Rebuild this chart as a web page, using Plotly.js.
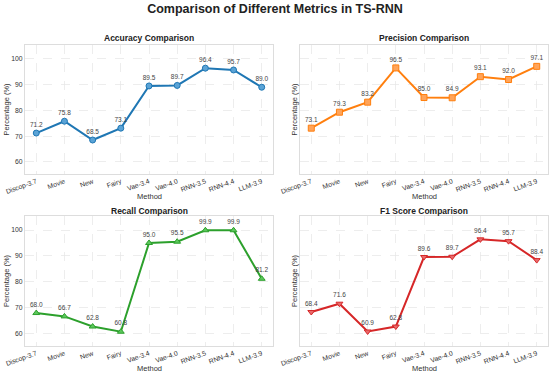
<!DOCTYPE html>
<html><head><meta charset="utf-8">
<script src="https://cdn.plot.ly/plotly-3.0.1.min.js"></script>
<style>html,body{margin:0;padding:0;background:#fff}#chart{width:550px;height:377px}</style>
</head><body><div id="chart"></div>
<script>
const methods = ["Discop-3.7","Movie","New","Fairy","Vae-3.4","Vae-4.0","RNN-3.5","RNN-4.4","LLM-3.9"];
const accuracy  = [71.2, 75.8, 68.5, 73.1, 89.5, 89.7, 96.4, 95.7, 89.0];
const precision = [73.1, 79.3, 83.2, 96.5, 85.0, 84.9, 93.1, 92.0, 97.1];
const recall    = [68.0, 66.7, 62.8, 60.8, 95.0, 95.5, 99.9, 99.9, 81.2];
const f1score   = [68.4, 71.6, 60.9, 62.8, 89.6, 89.7, 96.4, 95.7, 88.4];
const panelTitles = ["Accuracy Comparison","Precision Comparison","Recall Comparison","F1 Score Comparison"];

const series = [accuracy, precision, recall, f1score];
const colors = ["#1f77b4","#ff7f0e","#2ca02c","#d62728"];
const lightColors = ["#5aa3d6","#ffa45a","#5cc75c","#e86a6b"];
const symbols = ["circle","square","triangle-up","triangle-down"];
const axes = [["x","y"],["x2","y2"],["x3","y3"],["x4","y4"]];
const font = "Liberation Sans, Arial, sans-serif";

const traces = series.map((vals,i)=>({
  x: methods, y: vals, xaxis: axes[i][0], yaxis: axes[i][1],
  type: "scatter", mode: "lines+markers+text",
  line: {color: colors[i], width: 2},
  marker: {symbol: symbols[i], size: 6, color: lightColors[i], line:{color: colors[i], width:1}},
  text: vals.map(v=>v.toFixed(1)), textposition: "top center",
  textfont: {family: font, size: 6.5, color: "#444"},
  cliponaxis: false, hoverinfo: "skip", showlegend: false
}));

const W = 550, H = 377;
const xd = [[25/W, 273/W],[300/W, 548/W]];
const yd = [[1-174/H, 1-45/H],[1-346/H, 1-216/H]];

function xax(i, anchor){
  return {domain: xd[i%2], anchor: anchor, type:"category", range:[-0.4, 8.4],
    tickangle: -20, tickfont:{family:font, size:6.8, color:"#333"},
    showgrid:true, gridcolor:"#e6e6e6", griddash:"dash", gridwidth:0.7,
    showline:true, linecolor:"#dddddd", linewidth:1, mirror:true, zeroline:false,
    ticks:"", automargin:false};
}
function yax(i, anchor, showlabels){
  return {domain: yd[Math.floor(i/2)], anchor: anchor, range:[55.3, 105.4],
    tickvals:[60,70,80,90,100], showticklabels: showlabels,
    tickfont:{family:font, size:6.8, color:"#333"},
    showgrid:true, gridcolor:"#e6e6e6", griddash:"dash", gridwidth:0.7,
    showline:true, linecolor:"#dddddd", linewidth:1, mirror:true, zeroline:false,
    ticks:"", automargin:false};
}

const ann = [];
const titleCx = [(25+273)/2/W, (300+548)/2/W];
const titleY = [1-38/H, 1-211/H];
const methodY = [1-196/H, 1-368/H];
const pctX = [6/W, 294/W];
const pctY = [1-(45+174)/2/H, 1-(216+346)/2/H];
for (let i=0;i<4;i++){
  const c = i%2, r = Math.floor(i/2);
  ann.push({text:"<b>"+panelTitles[i]+"</b>", x:titleCx[c], y:titleY[r], xref:"paper", yref:"paper",
    showarrow:false, font:{family:font, size:8.5, color:"#222"}, xanchor:"center", yanchor:"middle"});
  ann.push({text:"Method", x:titleCx[c], y:methodY[r], xref:"paper", yref:"paper",
    showarrow:false, font:{family:font, size:7.5, color:"#333"}, xanchor:"center", yanchor:"middle"});
  ann.push({text:"Percentage (%)", x:pctX[c], y:pctY[r], xref:"paper", yref:"paper", textangle:-90,
    showarrow:false, font:{family:font, size:7.5, color:"#333"}, xanchor:"center", yanchor:"middle"});
}

const layout = {
  width: W, height: H, margin:{l:0,r:0,t:0,b:0},
  paper_bgcolor:"#fff", plot_bgcolor:"#fff",
  title:{text:"<b>Comparison of Different Metrics in TS-RNN</b>", x:0.5, xanchor:"center", y:1-9/H, yanchor:"middle",
    font:{family:font, size:12.5, color:"#222"}},
  xaxis: xax(0,"y"), yaxis: yax(0,"x",true),
  xaxis2: xax(1,"y2"), yaxis2: yax(1,"x2",false),
  xaxis3: xax(2,"y3"), yaxis3: yax(2,"x3",true),
  xaxis4: xax(3,"y4"), yaxis4: yax(3,"x4",false),
  annotations: ann, showlegend:false
};
Plotly.newPlot("chart", traces, layout, {staticPlot:true, displayModeBar:false});
</script></body></html>
